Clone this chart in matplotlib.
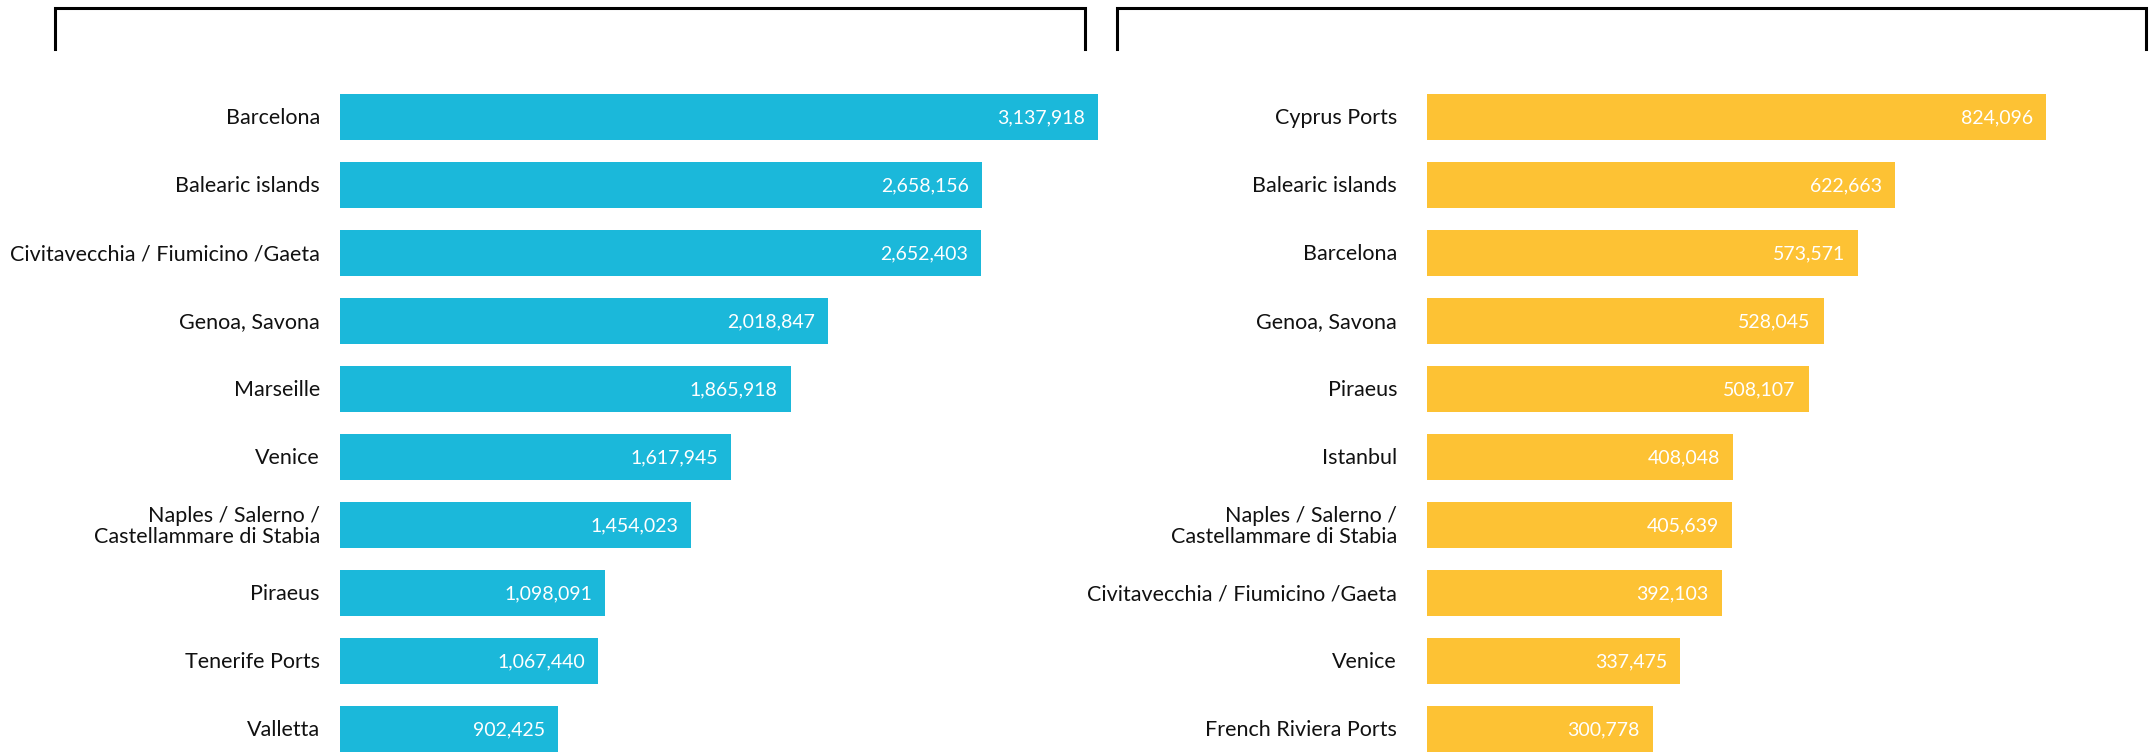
import matplotlib
matplotlib.use('Agg')
import matplotlib.pyplot as plt
from matplotlib.lines import Line2D

# left panel
left_ports = ['Barcelona', 'Balearic islands', 'Civitavecchia / Fiumicino /Gaeta',
              'Genoa, Savona', 'Marseille', 'Venice',
              'Naples / Salerno /\nCastellammare di Stabia', 'Piraeus',
              'Tenerife Ports', 'Valletta']
left_values = [3137918, 2658156, 2652403, 2018847, 1865918, 1617945,
               1454023, 1098091, 1067440, 902425]

# right panel
right_ports = ['Cyprus Ports', 'Balearic islands', 'Barcelona', 'Genoa, Savona',
               'Piraeus', 'Istanbul', 'Naples / Salerno /\nCastellammare di Stabia',
               'Civitavecchia / Fiumicino /Gaeta', 'Venice', 'French Riviera Ports']
right_values = [824096, 622663, 573571, 528045, 508107, 408048,
                405639, 392103, 337475, 300778]

BLUE = '#1bb8da'
YELLOW = '#fdc234'
W, H = 2152, 753

plt.rcParams['font.family'] = ['Lato', 'DejaVu Sans']

fig = plt.figure(figsize=(W / 100, H / 100), dpi=100)


def panel(x0, width, ports, values, color, label_gap):
    # axes spans 10 rows of 68 px, first row centred at y=117
    top = 83
    ax = fig.add_axes([x0 / W, 1 - (top + 680) / H, width / W, 680 / H])
    y = list(range(len(ports)))
    ax.barh(y, values, height=0.69, color=color)
    ax.set_xlim(0, max(values))
    ax.set_ylim(len(ports) - 0.5, -0.5)
    ax.axis('off')
    px = max(values) / width
    for yi, name, v in zip(y, ports, values):
        ax.text(-label_gap * px, yi + 0.02, name, ha='right', va='center',
                fontsize=15.5, color='#111111', linespacing=1.1)
        ax.text(v - 13 * px, yi + 0.02, f'{v:,}', ha='right', va='center',
                fontsize=14, color='white')
    return ax


panel(340, 758, left_ports, left_values, BLUE, 20)
panel(1427, 619, right_ports, right_values, YELLOW, 30)


def bracket(xa, xb):
    yt = 1 - 8 / H
    yb = 1 - 49 / H
    fig.add_artist(Line2D([xa / W, xa / W, xb / W, xb / W], [yb, yt, yt, yb],
                          color='black', lw=2.2, solid_joinstyle='miter'))


bracket(55, 1085)
bracket(1117, 2146)

fig.savefig('out.png', dpi=100)
